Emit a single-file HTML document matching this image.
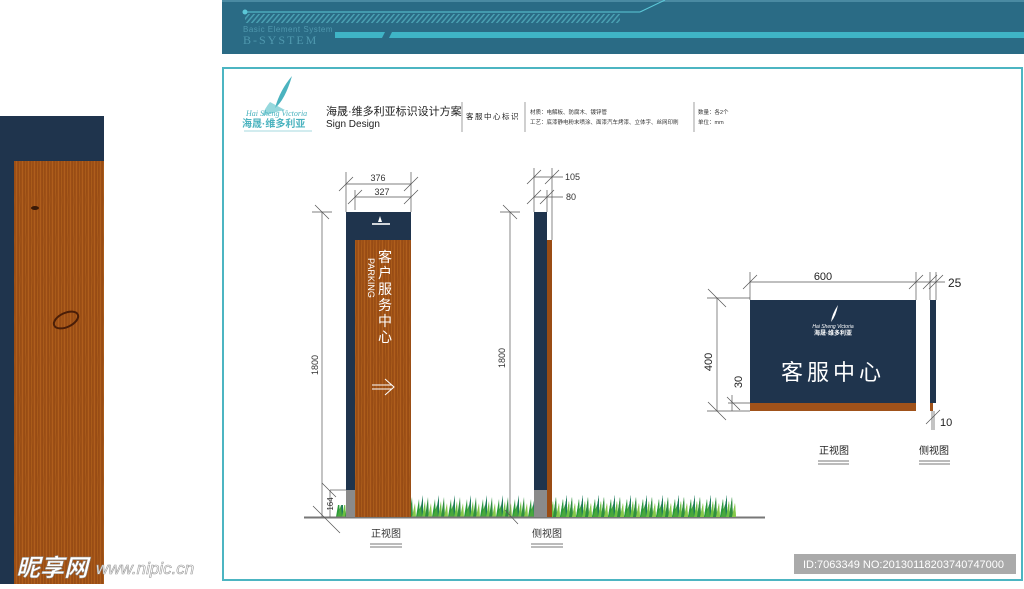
<!DOCTYPE html>
<html><head><meta charset="utf-8"><style>
html,body{margin:0;padding:0;background:#fff;}
body{width:1024px;height:584px;overflow:hidden;position:relative;font-family:"Liberation Sans","Noto Sans CJK SC",sans-serif;}
</style></head><body>
<svg width="1024" height="584" viewBox="0 0 1024 584" xmlns="http://www.w3.org/2000/svg" font-family="Liberation Sans, Noto Sans CJK SC, sans-serif">
<defs>
<linearGradient id="wood" x1="0" x2="1" y1="0" y2="0">
<stop offset="0" stop-color="#8e4512"/><stop offset="0.3" stop-color="#b0601c"/><stop offset="0.55" stop-color="#9a4c14"/><stop offset="0.8" stop-color="#b4621e"/><stop offset="1" stop-color="#8a4010"/>
</linearGradient>
<pattern id="grain" width="6" height="40" patternUnits="userSpaceOnUse">
<rect width="6" height="40" fill="url(#wood)"/>
<path d="M2 0 Q3 20 2 40" stroke="#7a360c" stroke-width="0.6" fill="none" opacity="0.5"/>
</pattern>
<pattern id="grass" width="16" height="22" patternUnits="userSpaceOnUse" x="0" y="495">
<polygon points="0,22 3,4 4,22" fill="#2a9a3a"/>
<polygon points="3,22 7,0 7,22" fill="#1d7a5a"/>
<polygon points="6,22 9,6 10,22" fill="#6cc040"/>
<polygon points="9,22 12,2 13,22" fill="#2f8f3f"/>
<polygon points="12,22 15,8 16,22" fill="#86c84a"/>
<polygon points="1,22 5,10 6,22" fill="#48a83c"/>
</pattern>
<pattern id="hatch" width="5" height="10" patternUnits="userSpaceOnUse" patternTransform="skewX(-40)">
<rect width="2" height="10" fill="#5cc0cf" opacity="0.6"/>
</pattern>
</defs>

<!-- left piece -->
<rect x="0" y="116" width="104" height="468" fill="#1f344d"/>
<rect x="14" y="161" width="90" height="423" fill="url(#grain)"/>
<ellipse cx="35" cy="208" rx="4" ry="2" fill="#3a1a08"/>
<ellipse cx="66" cy="320" rx="13" ry="7" fill="none" stroke="#4a1e08" stroke-width="2" transform="rotate(-25 66 320)"/>
<text x="16" y="576" font-size="24" font-weight="bold" fill="#fff" stroke="#888" stroke-width="0.5" font-style="italic">昵享网</text>
<text x="96" y="574" font-size="17" fill="#fff" stroke="#999" stroke-width="0.6" font-style="italic">www.nipic.cn</text>

<!-- header banner -->
<rect x="222" y="0" width="802" height="54" fill="#2a6b85"/>
<rect x="222" y="0" width="802" height="2" fill="#4a8aa2"/>
<circle cx="245" cy="12" r="2.5" fill="#5cc8d8"/>
<line x1="245" y1="12" x2="640" y2="12" stroke="#5cc8d8" stroke-width="1"/>
<line x1="640" y1="12" x2="665" y2="0" stroke="#5cc8d8" stroke-width="1"/>
<rect x="245" y="14" width="375" height="9" fill="url(#hatch)"/>
<text x="243" y="32" font-size="8" fill="#4f98ae" letter-spacing="0.5">Basic Element System</text>
<text x="243" y="44" font-size="12" fill="#4f98ae" font-family="Liberation Serif, serif" letter-spacing="2">B-SYSTEM</text>
<polygon points="335,32 385,32 382,38 335,38" fill="#3fb4c6"/>
<polygon points="392,32 1024,32 1024,38 389,38" fill="#3fb4c6"/>

<!-- main frame -->
<rect x="223" y="68" width="799" height="512" fill="#fff" stroke="#4cb5c2" stroke-width="2"/>

<!-- title block -->
<path d="M292 76 Q280 90 275 108 Q285 100 292 76 Z" fill="#4bb3bf"/>
<path d="M270 102 Q265 108 262 116 Q275 112 285 110 Z" fill="#6ac7cf" opacity="0.7"/>
<text x="246" y="116" font-size="8" fill="#4bb3bf" font-style="italic" font-family="Liberation Serif, serif">Hai Sheng Victoria</text>
<text x="242" y="127" font-size="10" font-weight="bold" fill="#4bb3bf">海晟·维多利亚</text>
<line x1="244" y1="131" x2="312" y2="131" stroke="#4bb3bf" stroke-width="0.6"/>
<text x="326" y="115" font-size="11" fill="#222">海晟·维多利亚标识设计方案</text>
<text x="326" y="127" font-size="10" fill="#222">Sign Design</text>
<line x1="462" y1="102" x2="462" y2="132" stroke="#888" stroke-width="0.8"/>
<text x="466" y="119" font-size="7.5" fill="#222" letter-spacing="1.5">客服中心标识</text>
<line x1="525" y1="102" x2="525" y2="132" stroke="#888" stroke-width="0.8"/>
<text x="530" y="114" font-size="5.5" fill="#333">材质：电解板、防腐木、镀锌管</text>
<text x="530" y="124" font-size="5.5" fill="#333">工艺：底漆静电粉末喷涂、面漆汽车烤漆、立体字、丝网印刷</text>
<line x1="694" y1="102" x2="694" y2="132" stroke="#888" stroke-width="0.8"/>
<text x="698" y="114" font-size="5.5" fill="#333">数量：各2个</text>
<text x="698" y="124" font-size="5.5" fill="#333">单位：mm</text>

<!-- ground & grass -->
<rect x="411" y="495" width="325" height="22" fill="url(#grass)"/>
<rect x="336" y="505" width="10" height="12" fill="url(#grass)"/>
<line x1="304" y1="517.5" x2="765" y2="517.5" stroke="#777" stroke-width="2"/>

<!-- front sign -->
<rect x="346" y="212" width="65" height="278" fill="#1f344d"/>
<rect x="346" y="490" width="9" height="27" fill="#8a8a8a"/>
<rect x="355" y="240" width="56" height="277" fill="url(#grain)"/>
<path d="M380 216 L382 222 L378 222 Z" fill="#fff"/>
<rect x="372" y="223" width="18" height="2" fill="#fff" opacity="0.8"/>
<text font-size="14" fill="#fff" x="385" y="262" text-anchor="middle">
<tspan x="385" dy="0">客</tspan><tspan x="385" dy="16">户</tspan><tspan x="385" dy="16">服</tspan><tspan x="385" dy="16">务</tspan><tspan x="385" dy="16">中</tspan><tspan x="385" dy="16">心</tspan></text>
<text x="0" y="0" font-size="9" fill="#fff" transform="translate(368 258) rotate(90)">PARKING</text>
<path d="M372 385 L392 385 M372 389 L392 389 M385 379 L394 387 L385 395" stroke="#fff" stroke-width="1" fill="none"/>

<!-- front dimensions -->
<g stroke="#555" stroke-width="0.7" fill="none">
<line x1="346" y1="184" x2="411" y2="184"/>
<line x1="346" y1="172" x2="346" y2="212"/><line x1="411" y1="172" x2="411" y2="212"/>
<line x1="339" y1="191" x2="353" y2="177"/><line x1="404" y1="191" x2="418" y2="177"/>
<line x1="355" y1="197" x2="411" y2="197"/>
<line x1="355" y1="190" x2="355" y2="210"/>
<line x1="348" y1="204" x2="362" y2="190"/><line x1="404" y1="204" x2="418" y2="190"/>
<line x1="322" y1="212" x2="322" y2="517"/>
<line x1="312" y1="212" x2="332" y2="212"/>
<line x1="315" y1="205" x2="329" y2="219"/>
<line x1="330" y1="490" x2="346" y2="490"/>
<line x1="322" y1="483" x2="336" y2="497"/>
<line x1="330" y1="490" x2="330" y2="517"/>
<line x1="313" y1="506" x2="340" y2="533"/>
</g>
<text x="378" y="181" font-size="9" fill="#333" text-anchor="middle">376</text>
<text x="382" y="195" font-size="9" fill="#333" text-anchor="middle">327</text>
<text font-size="9" fill="#333" transform="translate(318 365) rotate(-90)" text-anchor="middle">1800</text>
<text font-size="8" fill="#333" transform="translate(333 504) rotate(-90)" text-anchor="middle">164</text>
<text x="386" y="537" font-size="10" fill="#333" text-anchor="middle">正视图</text>
<line x1="370" y1="544" x2="402" y2="544" stroke="#777"/><line x1="370" y1="547" x2="402" y2="547" stroke="#777"/>

<!-- side sign -->
<rect x="534" y="212" width="13" height="278" fill="#1f344d"/>
<rect x="534" y="490" width="13" height="27" fill="#8a8a8a"/>
<rect x="547" y="240" width="5" height="277" fill="#9a4c14"/>
<rect x="552" y="495" width="184" height="22" fill="url(#grass)"/>
<g stroke="#555" stroke-width="0.7" fill="none">
<line x1="534" y1="177" x2="563" y2="177"/>
<line x1="534" y1="168" x2="534" y2="212"/><line x1="552" y1="168" x2="552" y2="240"/>
<line x1="527" y1="184" x2="541" y2="170"/><line x1="545" y1="184" x2="559" y2="170"/>
<line x1="534" y1="197" x2="563" y2="197"/>
<line x1="547" y1="190" x2="547" y2="212"/>
<line x1="527" y1="204" x2="541" y2="190"/><line x1="540" y1="204" x2="554" y2="190"/>
<line x1="510" y1="212" x2="510" y2="517"/>
<line x1="500" y1="212" x2="520" y2="212"/>
<line x1="503" y1="205" x2="517" y2="219"/>
<line x1="505" y1="510" x2="518" y2="524"/>
</g>
<text x="565" y="180" font-size="9" fill="#333">105</text>
<text x="566" y="200" font-size="9" fill="#333">80</text>
<text font-size="9" fill="#333" transform="translate(505 358) rotate(-90)" text-anchor="middle">1800</text>
<text x="547" y="537" font-size="10" fill="#333" text-anchor="middle">侧视图</text>
<line x1="531" y1="544" x2="563" y2="544" stroke="#777"/><line x1="531" y1="547" x2="563" y2="547" stroke="#777"/>

<!-- right sign -->
<rect x="750" y="300" width="166" height="103" fill="#1f344d"/>
<rect x="750" y="403" width="166" height="8" fill="#a0521a"/>
<path d="M838 305 Q832 314 831 322 Q836 316 838 305 Z" fill="#fff"/>
<text x="833" y="328" font-size="5" fill="#fff" text-anchor="middle" font-style="italic">Hai Sheng Victoria</text>
<text x="833" y="335" font-size="6" fill="#fff" text-anchor="middle" font-weight="bold">海晟·维多利亚</text>
<text x="833" y="380" font-size="22" fill="#fff" text-anchor="middle" letter-spacing="4">客服中心</text>
<rect x="930" y="300" width="6" height="103" fill="#1f344d"/>
<rect x="930" y="403" width="3" height="8" fill="#a0521a"/>
<g stroke="#555" stroke-width="0.7" fill="none">
<line x1="750" y1="282" x2="916" y2="282"/>
<line x1="750" y1="272" x2="750" y2="300"/><line x1="916" y1="272" x2="916" y2="300"/>
<line x1="743" y1="289" x2="757" y2="275"/><line x1="909" y1="289" x2="923" y2="275"/>
<line x1="916" y1="282" x2="945" y2="282"/>
<line x1="930" y1="272" x2="930" y2="300"/><line x1="936" y1="272" x2="936" y2="300"/>
<line x1="923" y1="289" x2="937" y2="275"/><line x1="929" y1="289" x2="943" y2="275"/>
<line x1="717" y1="298" x2="717" y2="411"/>
<line x1="707" y1="298" x2="750" y2="298"/>
<line x1="708" y1="289" x2="726" y2="307"/>
<line x1="707" y1="411" x2="750" y2="411"/>
<line x1="708" y1="402" x2="726" y2="420"/>
<line x1="732" y1="395" x2="732" y2="411"/>
<line x1="728" y1="403" x2="750" y2="403"/>
<line x1="727" y1="397" x2="740" y2="410"/>
<line x1="932" y1="411" x2="932" y2="430"/><line x1="934" y1="411" x2="934" y2="430"/>
<line x1="926" y1="424" x2="940" y2="410"/>
</g>
<text x="823" y="280" font-size="11" fill="#222" text-anchor="middle">600</text>
<text x="948" y="287" font-size="12" fill="#222">25</text>
<text font-size="11" fill="#222" transform="translate(712 362) rotate(-90)" text-anchor="middle">400</text>
<text font-size="11" fill="#222" transform="translate(742 382) rotate(-90)" text-anchor="middle">30</text>
<text x="940" y="426" font-size="11" fill="#222">10</text>
<text x="834" y="454" font-size="10" fill="#222" text-anchor="middle">正视图</text>
<line x1="818" y1="461" x2="849" y2="461" stroke="#777"/><line x1="818" y1="464" x2="849" y2="464" stroke="#777"/>
<text x="934" y="454" font-size="10" fill="#222" text-anchor="middle">侧视图</text>
<line x1="919" y1="461" x2="950" y2="461" stroke="#777"/><line x1="919" y1="464" x2="950" y2="464" stroke="#777"/>

<!-- watermark id -->
<rect x="794" y="554" width="222" height="20" fill="#aaa"/>
<text x="803" y="568" font-size="11" fill="#fff">ID:7063349 NO:20130118203740747000</text>
</svg>
</body></html>
